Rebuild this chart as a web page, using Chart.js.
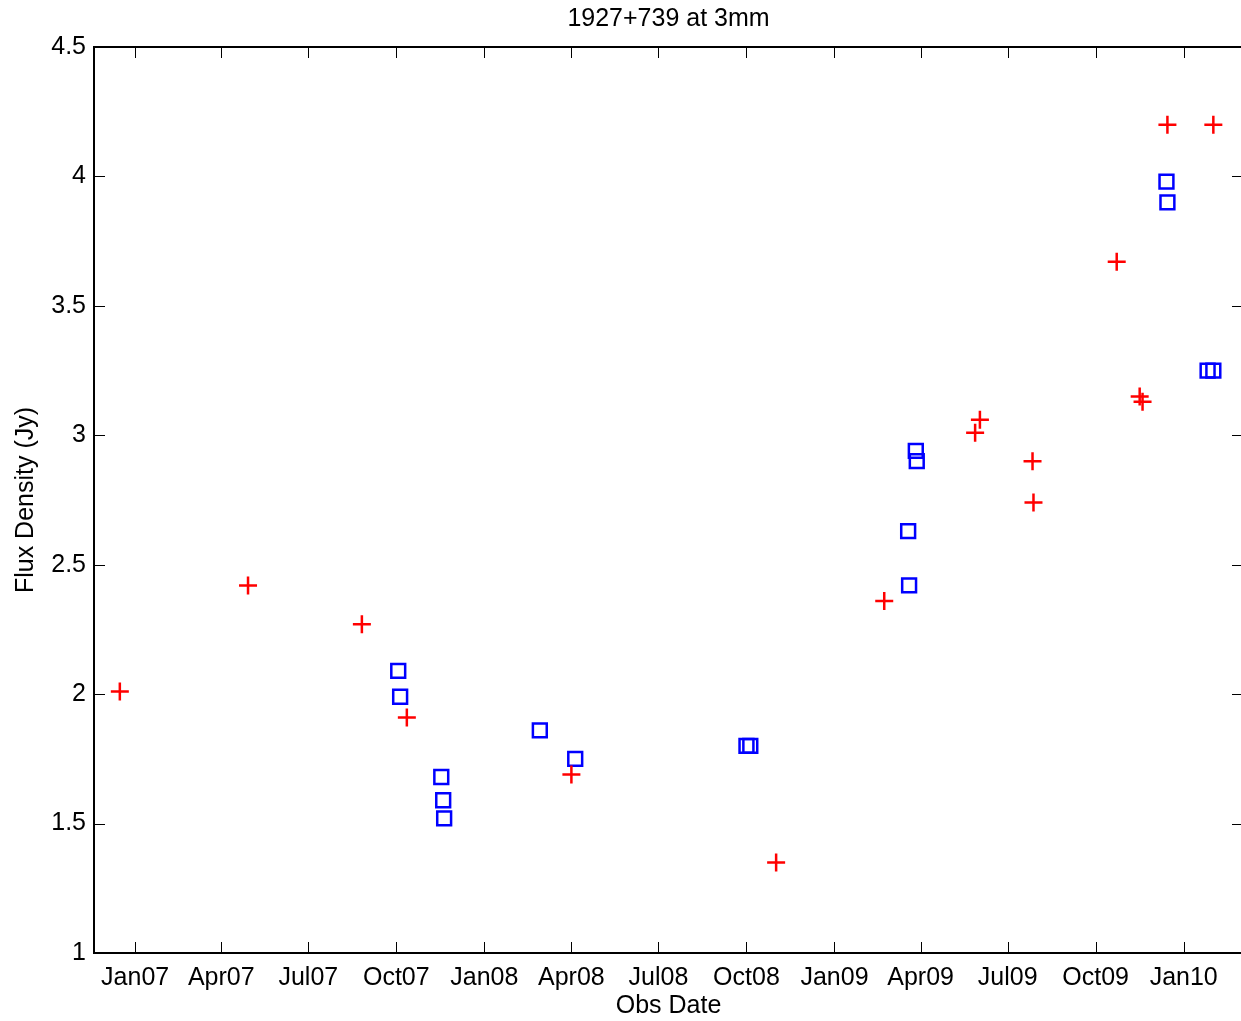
<!DOCTYPE html>
<html>
<head>
<meta charset="utf-8">
<title>1927+739 at 3mm</title>
<script src="https://cdn.jsdelivr.net/npm/chart.js@4.4.1/dist/chart.umd.min.js"></script>
<style>
html, body { margin: 0; padding: 0; overflow: hidden; background: #fff; }
#wrap { width: 1337px; height: 1021px; }
</style>
</head>
<body>
<div id="wrap"><canvas id="chart1"></canvas></div>
<script>
/* observations, red crosses */
var redDates = ['2006-12-16', '2007-04-29', '2007-08-26', '2007-10-12', '2008-04-01', '2008-11-01',
                '2009-02-22', '2009-05-28', '2009-06-02', '2009-07-27', '2009-07-28', '2009-10-23',
                '2009-11-16', '2009-11-19', '2009-12-15', '2010-02-01'];
var redFlux = [2.01, 2.42, 2.27, 1.91, 1.69, 1.35,
               2.36, 3.01, 3.06, 2.90, 2.74, 3.67,
               3.15, 3.13, 4.20, 4.20];

/* observations, blue squares */
var blueDates = ['2007-10-03', '2007-10-05', '2007-11-17', '2007-11-19', '2007-11-20', '2008-02-28',
                 '2008-04-05', '2008-10-01', '2008-10-05', '2009-03-19', '2009-03-20', '2009-03-27',
                 '2009-03-28', '2009-12-14', '2009-12-15', '2010-01-26', '2010-02-01'];
var blueFlux = [2.09, 1.99, 1.68, 1.59, 1.52, 1.86,
                1.75, 1.80, 1.80, 2.63, 2.42, 2.94,
                2.90, 3.98, 3.90, 3.25, 3.25];

/* date axis */
var tickDates = ['2007-01-01', '2007-04-01', '2007-07-01', '2007-10-01', '2008-01-01', '2008-04-01',
                 '2008-07-01', '2008-10-01', '2009-01-01', '2009-04-01', '2009-07-01', '2009-10-01',
                 '2010-01-01'];
var tickLabels = ['Jan07', 'Apr07', 'Jul07', 'Oct07', 'Jan08', 'Apr08', 'Jul08', 'Oct08',
                  'Jan09', 'Apr09', 'Jul09', 'Oct09', 'Jan10'];
var xStart = '2006-11-19';
var xEnd = '2010-03-04';

/* flux axis */
var yTicks = [1, 1.5, 2, 2.5, 3, 3.5, 4, 4.5];
var yTickLabels = ['1', '1.5', '2', '2.5', '3', '3.5', '4', '4.5'];

// days since 2007-01-01
function dayNum(s) {
    var p = s.split('-');
    return (Date.UTC(+p[0], p[1] - 1, +p[2]) - Date.UTC(2007, 0, 1)) / 86400000;
}

function toPoints(dates, flux) {
    return dates.map(function (d, i) { return { x: dayNum(d), y: flux[i] }; });
}

var tickValues = tickDates.map(dayNum);

// axes box with inward ticks on all four sides
var boxTicks = {
    id: 'boxTicks',
    beforeDatasetsDraw: function (chart) {
        var ctx = chart.ctx, a = chart.chartArea, len = 11;
        var xs = chart.scales.x, ys = chart.scales.y;
        ctx.save();
        ctx.strokeStyle = '#000';
        ctx.lineWidth = 1;
        ctx.beginPath();
        xs.ticks.forEach(function (t) {
            var px = Math.round(xs.getPixelForValue(t.value)) + 0.5;
            ctx.moveTo(px, a.bottom); ctx.lineTo(px, a.bottom - len);
            ctx.moveTo(px, a.top); ctx.lineTo(px, a.top + len);
        });
        ys.ticks.forEach(function (t) {
            var py = Math.round(ys.getPixelForValue(t.value)) + 0.5;
            ctx.moveTo(a.left, py); ctx.lineTo(a.left + len, py);
            ctx.moveTo(a.right, py); ctx.lineTo(a.right - len, py);
        });
        ctx.stroke();
        ctx.lineWidth = 2;
        ctx.strokeRect(Math.round(a.left), Math.round(a.top), Math.round(a.right - a.left), Math.round(a.bottom - a.top));
        ctx.restore();
    }
};

Chart.defaults.font.family = '"Liberation Sans", Arial, Helvetica, sans-serif';
Chart.defaults.font.size = 25;
Chart.defaults.color = '#000';

var ctx1 = document.getElementById('chart1').getContext('2d');
var myChart = new Chart(ctx1, {
    type: 'scatter',
    data: {
        datasets: [{
            data: toPoints(redDates, redFlux),
            pointStyle: 'cross',
            radius: 9,
            borderColor: '#ff0000',
            backgroundColor: 'rgba(0,0,0,0)',
            borderWidth: 2.5
        }, {
            data: toPoints(blueDates, blueFlux),
            pointStyle: 'rect',
            radius: 9.8,
            borderColor: '#0000ff',
            backgroundColor: 'rgba(0,0,0,0)',
            borderWidth: 2.5
        }]
    },
    options: {
        responsive: true,
        maintainAspectRatio: false,
        animation: false,
        events: [],
        layout: { padding: { left: 0, right: 94, top: 0, bottom: 0 } },
        plugins: {
            legend: { display: false },
            tooltip: { enabled: false },
            title: {
                display: true,
                fullSize: false,
                text: '1927+739 at 3mm',
                color: '#000',
                font: { size: 25, weight: 'normal', lineHeight: 1.2 },
                padding: { top: 4, bottom: 13 }
            }
        },
        scales: {
            x: {
                type: 'linear',
                min: dayNum(xStart),
                max: dayNum(xEnd),
                grid: { display: false, drawTicks: false },
                border: { display: false },
                afterBuildTicks: function (s) {
                    s.ticks = tickValues.map(function (v) { return { value: v }; });
                },
                afterFit: function (s) { s.height = 68; },
                ticks: {
                    padding: 10,
                    maxRotation: 0,
                    autoSkip: false,
                    callback: function (v) { return tickLabels[tickValues.indexOf(v)]; }
                },
                title: {
                    display: true,
                    text: 'Obs Date',
                    font: { size: 25, lineHeight: 1.2 },
                    padding: { top: 0, bottom: 0 }
                }
            },
            y: {
                min: 1,
                max: 4.5,
                grid: { display: false, drawTicks: false },
                border: { display: false },
                afterBuildTicks: function (s) {
                    s.ticks = yTicks.map(function (v) { return { value: v }; });
                },
                afterFit: function (s) { s.width = 94; },
                ticks: {
                    padding: 8,
                    callback: function (v) { return yTickLabels[yTicks.indexOf(v)]; }
                },
                title: {
                    display: true,
                    text: 'Flux Density (Jy)',
                    font: { size: 25, lineHeight: 1.2 },
                    padding: { top: 11, bottom: 0 }
                }
            }
        }
    },
    plugins: [boxTicks]
});
</script>
</body>
</html>
